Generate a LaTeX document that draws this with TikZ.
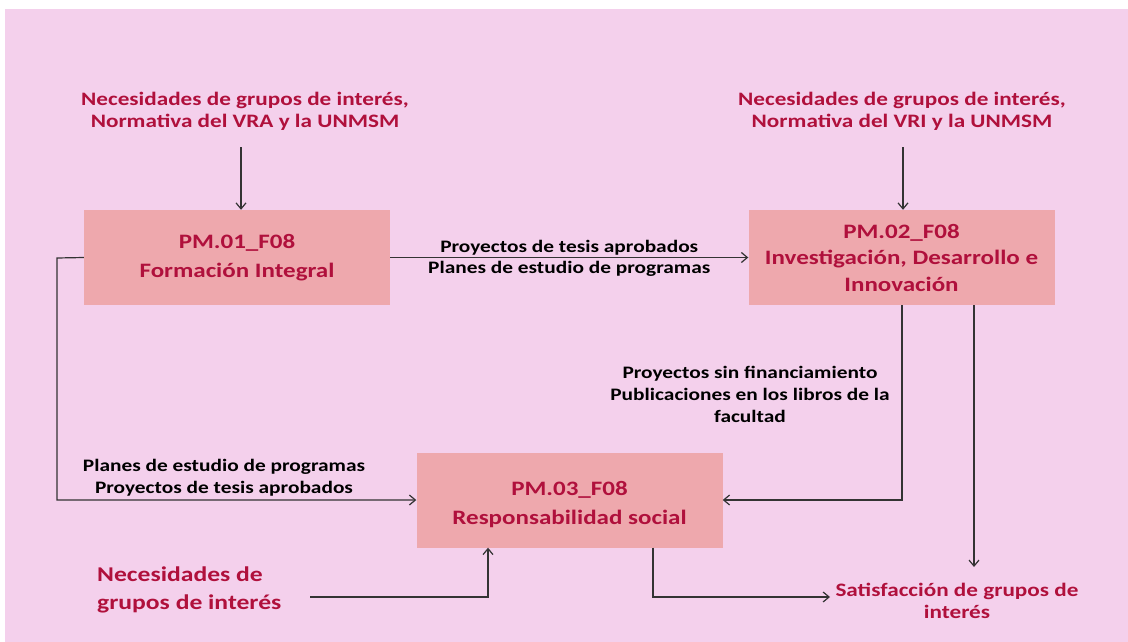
\documentclass[tikz,border=0pt]{standalone}
\usepackage{fontspec}
\setmainfont{Carlito}[FakeStretch=1.22]
\usetikzlibrary{arrows.meta}
\definecolor{bgpink}{HTML}{F4D0EC}
\definecolor{boxfill}{HTML}{EEA8AD}
\definecolor{redtxt}{HTML}{B0103C}
\definecolor{linegray}{HTML}{333333}
\tikzset{
  procbox/.style={fill=boxfill, draw=none, minimum width=306pt, minimum height=95pt, align=center, text=redtxt, font=\fontsize{20.5}{26.5}\selectfont\bfseries, inner sep=0pt},
  twoline/.style={font=\fontsize{20.5}{29}\selectfont\bfseries},
  redlabel/.style={text=redtxt, font=\fontsize{19}{22}\selectfont\bfseries, align=center, inner sep=0pt},
  blacklabel/.style={text=black, font=\fontsize{17.5}{22}\selectfont\bfseries, align=center, inner sep=0pt},
  conn/.style={draw=linegray, line width=1.2pt, -{Straight Barb[length=6pt,width=10pt]}},
}
\begin{document}
\begin{tikzpicture}[x=1pt,y=-1pt]
\useasboundingbox (0,0) rectangle (1128,642);
\fill[white] (0,0) rectangle (1128,642);
\fill[bgpink] (5,9) rectangle (1128,642);

\node[procbox, twoline] (b1) at (237,257.5) {PM.01\_F08\\Formación Integral};
\node[procbox] (b2) at (901.5,257.5) {PM.02\_F08\\Investigación, Desarrollo e\\Innovación};
\node[procbox, twoline, text depth=8pt, text height=8pt, minimum height=95pt] (b3) at (569.5,500) {};
\node[text=redtxt, twoline, align=center, inner sep=0pt] (b3t) at (569.5,505) {PM.03\_F08\\Responsabilidad social};

\node[redlabel] (t1) at (245,111) {Necesidades de grupos de interés,\\Normativa del VRA y la UNMSM};
\node[redlabel] (t2) at (902,111) {Necesidades de grupos de interés,\\Normativa del VRI y la UNMSM};
\node[redlabel, font=\fontsize{21}{28}\selectfont\bfseries, align=left, anchor=west] (nl) at (97,590) {Necesidades de\\grupos de interés};
\node[redlabel] (sat) at (957,601) {Satisfacción de grupos de\\interés};

\coordinate (t1b) at (241,147);
\coordinate (t2b) at (903,147);
\draw[conn] (t1b) -- (b1.north -| t1b);
\draw[conn] (t2b) -- (b2.north -| t2b);

\draw[conn] (b1.east) -- (b2.west)
  node[blacklabel, pos=0.5, above=2pt] (l1) {Proyectos de tesis aprobados}
  node[blacklabel, pos=0.5, below=3pt] (l2) {Planes de estudio de programas};

\coordinate (lc1) at (57,258);
\coordinate (lc2) at (57,500);
\draw[conn] (b1.west) -- (lc1) -- (lc2) -- (b3.west);
\node[blacklabel] (l3) at (224,478) {Planes de estudio de programas\\Proyectos de tesis aprobados};

\coordinate (rc1) at (902,500);
\draw[conn] (b2.south -| rc1) -- (rc1) -- (b3.east);
\node[blacklabel] (l4) at (750,394) {Proyectos sin financiamiento\\Publicaciones en los libros de la\\facultad};

\coordinate (sc0) at (974,305);
\coordinate (sc1) at (974,567);
\draw[conn] (b2.south -| sc0) -- (sc1);

\coordinate (bc1) at (653,597);
\coordinate (bc2) at (830,597);
\draw[conn] (b3.south -| bc1) -- (bc1) -- (bc2);

\coordinate (nc1) at (310,597);
\coordinate (nc2) at (488,597);
\draw[conn] (nc1) -- (nc2) -- (b3.south -| nc2);
\end{tikzpicture}
\end{document}
